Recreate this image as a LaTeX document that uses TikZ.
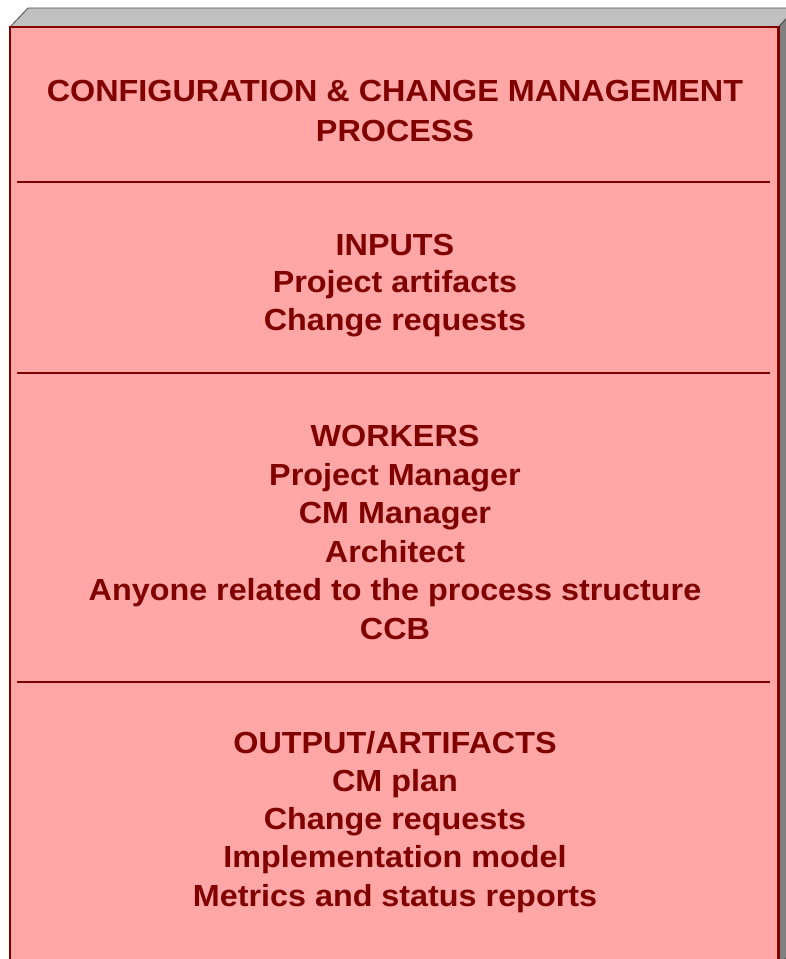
\documentclass[tikz,border=0pt]{standalone}
\usepackage{fontspec}
\setmainfont[FakeStretch=1.06]{Liberation Sans}
\definecolor{facepink}{HTML}{FFA6A6}
\definecolor{darkred}{HTML}{800000}
\definecolor{topgrey}{HTML}{C0C0C0}
\definecolor{sidegrey}{HTML}{808080}
\tikzset{
  txt/.style={anchor=base, text=darkred, font=\fontsize{30.5}{38}\selectfont\bfseries, inner sep=0pt},
  sepline/.style={draw=darkred, line width=2pt},
}
\begin{document}
\begin{tikzpicture}[x=1pt,y=-1pt]
\useasboundingbox (0,0) rectangle (786,959);
\clip (0,0) rectangle (786,959);
% 3D box
\fill[topgrey, draw=black!70, line width=0.8pt] (10,27) -- (28,8) -- (796,8) -- (778.5,27) -- cycle;
\fill[sidegrey, draw=black!70, line width=0.8pt] (778.5,27) -- (796,8) -- (796,947) -- (778.5,966) -- cycle;
\fill[facepink, draw=darkred, line width=2.2pt] (10,27) rectangle (778.5,966);
% separators
\coordinate (s1a) at (17,182); \coordinate (s1b) at (770,182);
\coordinate (s2a) at (17,373); \coordinate (s2b) at (770,373);
\coordinate (s3a) at (17,681.5); \coordinate (s3b) at (770,681.5);
\draw[sepline] (s1a) -- (s1b);
\draw[sepline] (s2a) -- (s2b);
\draw[sepline] (s3a) -- (s3b);
% texts
\node[txt] (t1) at (395,101.7) {CONFIGURATION \& CHANGE MANAGEMENT};
\node[txt] (t2) at (395,141) {PROCESS};
\node[txt] (i0) at (395,255) {INPUTS};
\node[txt] (i1) at (395,292.5) {Project artifacts};
\node[txt] (i2) at (395,330) {Change requests};
\node[txt] (w0) at (395,446.7) {WORKERS};
\node[txt] (w1) at (395,485) {Project Manager};
\node[txt] (w2) at (395,523.5) {CM Manager};
\node[txt] (w3) at (395,562) {Architect};
\node[txt] (w4) at (395,600.5) {Anyone related to the process structure};
\node[txt] (w5) at (395,639) {CCB};
\node[txt] (o0) at (395,753.3) {OUTPUT/ARTIFACTS};
\node[txt] (o1) at (395,791.7) {CM plan};
\node[txt] (o2) at (395,829.5) {Change requests};
\node[txt] (o3) at (395,867.5) {Implementation model};
\node[txt] (o4) at (395,906.5) {Metrics and status reports};
\end{tikzpicture}
\end{document}
